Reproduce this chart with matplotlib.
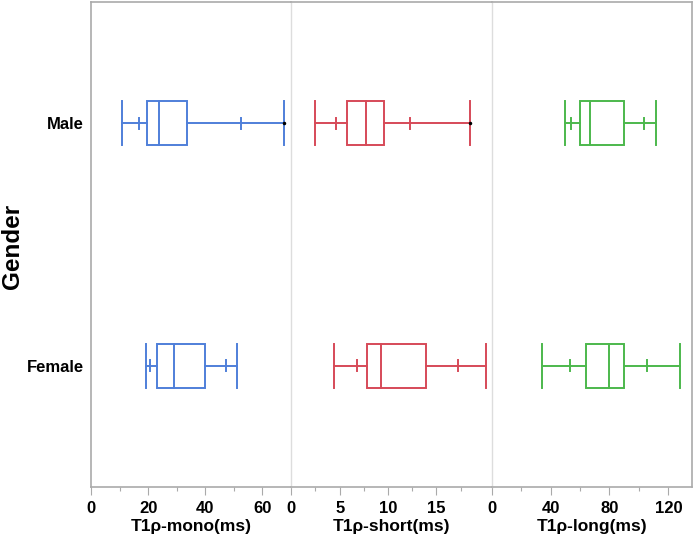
import matplotlib
matplotlib.use('Agg')
import matplotlib.pyplot as plt
from matplotlib.patches import Rectangle
from matplotlib.ticker import FixedLocator

plt.rcParams['font.family'] = ['Liberation Sans', 'DejaVu Sans']

genders = ['Male', 'Female']
measures = ['T1\u03c1-mono(ms)', 'T1\u03c1-short(ms)', 'T1\u03c1-long(ms)']
colors = ['#4F7FD9', '#D64A58', '#4CB84C']

# per gender: min, p10, q1, median, q3, p90, max
mono = [[10.8, 16.8, 19.8, 24.0, 33.6, 52.6, 67.6],
        [19.2, 20.6, 23.2, 29.2, 40.0, 47.4, 51.1]]
short = [[2.45, 4.6, 5.8, 7.7, 9.55, 12.25, 18.5],
         [4.45, 6.8, 7.8, 9.3, 13.9, 17.2, 20.1]]
long_ = [[49.7, 54.0, 59.7, 66.6, 90.0, 103.3, 111.4],
         [33.9, 53.1, 63.9, 80.0, 90.0, 105.8, 128.1]]
# single points drawn at the whisker end
dots = [[67.6, None], [18.5, None], [None, None]]

xlims = [70.2, 20.7, 136]
major_ticks = [[0, 20, 40, 60], [0, 5, 10, 15], [0, 40, 80, 120]]
minor_ticks = [[10, 30, 50], [2.5, 7.5, 12.5, 17.5], [20, 60, 100]]

fig = plt.figure(figsize=(6.95, 5.43), dpi=100)
fig.patch.set_facecolor('white')
w = 200.3 / 695
axes = []
for i in range(3):
    ax = fig.add_axes([91 / 695 + i * w, 56 / 543, w, 485 / 543])
    axes.append(ax)

half = 0.091
tick = 0.022
for i, (ax, data) in enumerate(zip(axes, [mono, short, long_])):
    c = colors[i]
    for j, row in enumerate(data):
        lo, p10, q1, med, q3, p90, hi = row
        ax.add_patch(Rectangle((q1, j - half), q3 - q1, 2 * half,
                               fill=False, edgecolor=c, lw=1.4))
        ax.plot([med, med], [j - half, j + half], color=c, lw=1.4)
        ax.plot([lo, q1], [j, j], color=c, lw=1.4)
        ax.plot([q3, hi], [j, j], color=c, lw=1.4)
        for v in (lo, hi):
            ax.plot([v, v], [j - half, j + half], color=c, lw=1.4)
        for v in (p10, p90):
            ax.plot([v, v], [j - tick, j + tick], color=c, lw=1.4)
        if dots[i][j] is not None:
            ax.plot(dots[i][j], j, 'o', color='black', ms=1.5)

    ax.set_xlim(0, xlims[i])
    ax.set_ylim(1.5, -0.5)
    ax.xaxis.set_major_locator(FixedLocator(major_ticks[i]))
    ax.xaxis.set_minor_locator(FixedLocator(minor_ticks[i]))
    ax.tick_params(axis='x', which='major', length=6, width=0.8,
                   color='#AAAAAA', labelsize=12, pad=4)
    ax.tick_params(axis='x', which='minor', length=3, width=0.8,
                   color='#AAAAAA')
    for lab in ax.get_xticklabels():
        lab.set_fontweight('bold')
    ax.set_xlabel(measures[i], fontsize=12.5, fontweight='bold', labelpad=2)
    for s in ax.spines.values():
        s.set_color('#AAAAAA')
        s.set_linewidth(1.2)
    if i > 0:
        ax.spines['left'].set_color('#DDDDDD')
        ax.spines['left'].set_linewidth(1.0)
        ax.set_yticks([])
    if i < 2:
        ax.spines['right'].set_visible(False)

axes[0].set_yticks([0, 1])
axes[0].set_yticklabels(genders, fontsize=12, fontweight='bold')
axes[0].tick_params(axis='y', length=0, pad=5)
fig.text(12 / 695, 1 - 246 / 543, 'Gender', rotation=90, fontsize=17.5,
         fontweight='bold', ha='center', va='center')

fig.savefig('out.png', dpi=100)
